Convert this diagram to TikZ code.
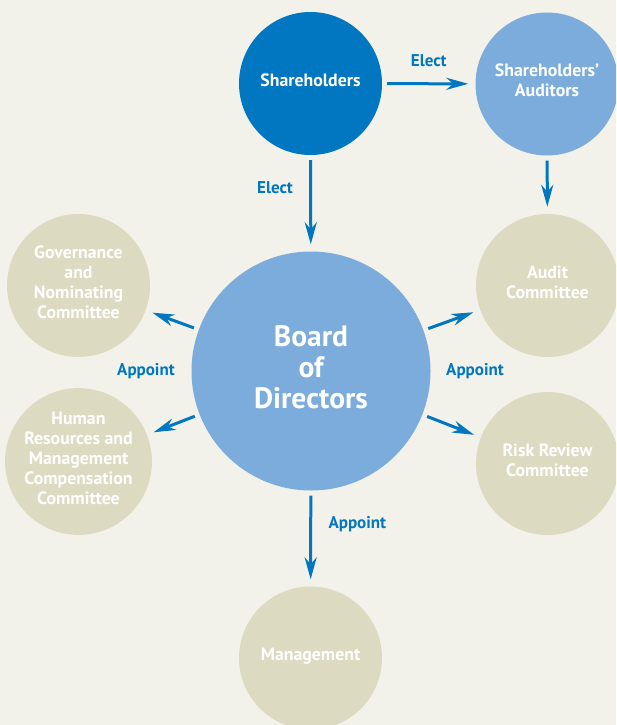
\documentclass[tikz,border=0pt]{standalone}
\usepackage{fontspec}
\setmainfont{PT Sans}
\usetikzlibrary{positioning,arrows.meta}
\definecolor{cream}{HTML}{F3F2EA}
\definecolor{darkblue}{HTML}{0077C0}
\definecolor{lightblue}{HTML}{7BACDC}
\definecolor{sage}{HTML}{DCDBC2}
\begin{document}
\begin{tikzpicture}[x=1pt, y=-1pt, line join=round, >={Stealth[length=22pt,width=12pt,inset=7pt]},
    bubble/.style={circle, minimum size=143pt, inner sep=0pt, text=white, align=center,
        font=\bfseries\fontsize{17.8}{20}\selectfont, execute at end node={\rule[-7pt]{0pt}{7pt}}},
    arr/.style={->, draw=darkblue, line width=3pt, shorten <=5pt, shorten >=7pt},
    lbl/.style={text=darkblue, font=\bfseries\fontsize{17}{18}\selectfont}]
    \fill[cream] (0,0) rectangle (616,725);
    \useasboundingbox (0,0) rectangle (616,725);
    \clip (0,0) rectangle (616,725);
    % circles
    \node[bubble, fill=darkblue] (share) at (310.5,83.5) {Shareholders};
    \node[bubble, fill=lightblue] (aud) at (547,84) {Shareholders’\\Auditors};
    \node[bubble, fill=lightblue, minimum size=239pt, font=\bfseries\fontsize{29.5}{31}\selectfont]
        (board) at (311,371) {Board\\of\\Directors};
    \node[bubble, fill=sage] (gov) at (78.5,285.5) {Governance\\and\\Nominating\\Committee};
    \node[bubble, fill=sage] (hr) at (78.5,461.5) {Human\\Resources and\\Management\\Compensation\\Committee};
    \node[bubble, fill=sage] (audit) at (547.5,285.5) {Audit\\Committee};
    \node[bubble, fill=sage] (risk) at (547.5,463.5) {Risk Review\\Committee};
    \node[bubble, fill=sage] (mgmt) at (310.5,658) {Management};
    % arrows
    \draw[arr] (share) -- node[lbl, above=12pt]{Elect} (aud);
    \draw[arr] (share) -- node[lbl, pos=0.34, left=13pt]{Elect} (board);
    \draw[arr] (aud) -- (audit);
    \draw[arr] (board) -- (gov);
    \draw[arr] (board) -- (hr);
    \draw[arr] (board) -- (audit);
    \draw[arr] (board) -- (risk);
    \draw[arr] (board) -- node[lbl, pos=0.35, right=13pt]{Appoint} (mgmt);
    \node[lbl, left=13pt of board] (appl) {Appoint};
    \node[lbl, right=12pt of board] (appr) {Appoint};
\end{tikzpicture}
\end{document}
